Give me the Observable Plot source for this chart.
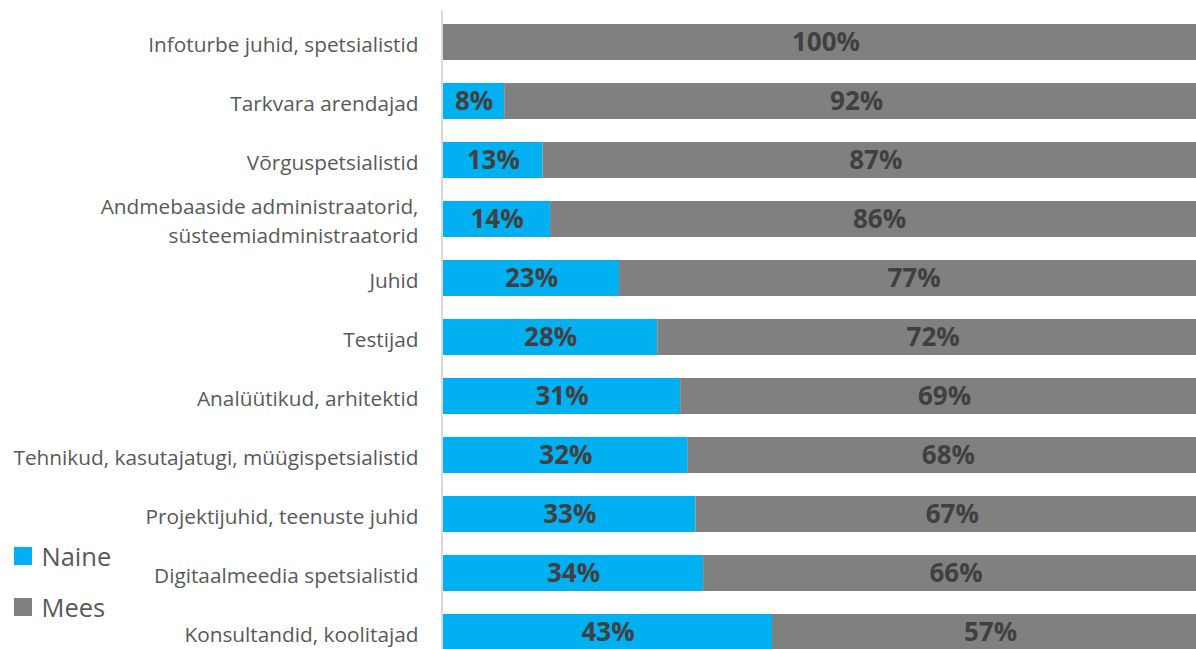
<!DOCTYPE html>
<html>
<head>
<meta charset="utf-8">
<script src="https://cdn.jsdelivr.net/npm/d3@7"></script>
<script src="https://cdn.jsdelivr.net/npm/@observablehq/plot@0.6"></script>
<style>
  html, body { margin: 0; padding: 0; background: #fff; overflow: hidden; }
  #wrap { position: relative; width: 1196px; height: 649px; overflow: hidden; }
  #legend { position: absolute; left: 14px; top: 0; font-family: "Open Sans", sans-serif; color: #595959; font-size: 25.5px; }
  .item { position: absolute; left: 0; height: 36px; display: flex; align-items: center; white-space: nowrap; }
  .sw { width: 17.5px; height: 17.5px; margin-right: 10px; }
</style>
</head>
<body>
<div id="wrap">
  <div id="chart"></div>
  <div id="legend"></div>
</div>
<script>
const categories = [
  "Infoturbe juhid, spetsialistid",
  "Tarkvara arendajad",
  "Võrguspetsialistid",
  "Andmebaaside administraatorid,\nsüsteemiadministraatorid",
  "Juhid",
  "Testijad",
  "Analüütikud, arhitektid",
  "Tehnikud, kasutajatugi, müügispetsialistid",
  "Projektijuhid, teenuste juhid",
  "Digitaalmeedia spetsialistid",
  "Konsultandid, koolitajad"
];
const naine = [0, 8, 13, 14, 23, 28, 31, 32, 33, 34, 43];
const mees = [100, 92, 87, 86, 77, 72, 69, 68, 67, 66, 57];
const seriesNames = ["Naine", "Mees"];
const seriesColors = ["#00B0F0", "#808080"];

const data = [];
categories.forEach((c, i) => {
  data.push({cat: c, sex: "Naine", value: naine[i]});
  data.push({cat: c, sex: "Mees", value: mees[i]});
});

const chart = Plot.plot({
  width: 1196,
  height: 649,
  marginLeft: 443,
  marginRight: -12,
  marginTop: 10.3,
  marginBottom: -14.7,
  style: {fontFamily: "'Open Sans', sans-serif", overflow: "hidden", background: "#fff"},
  x: {domain: [0, 100], axis: null},
  y: {domain: categories, paddingInner: 0.394, paddingOuter: 0.197, label: null},
  color: {domain: seriesNames, range: seriesColors},
  marks: [
    Plot.barX(data, Plot.stackX({x: "value", y: "cat", fill: "sex", order: seriesNames})),
    Plot.ruleX([0], {stroke: "#d9d9d9", strokeWidth: 2, dx: -1.5}),
    Plot.text(data.filter(d => d.value > 0), Plot.stackX({
      x: "value", y: "cat", z: "sex", order: seriesNames,
      text: d => d.value + "%", fill: "#404040", fontWeight: "bold", fontSize: 26
    })),
    Plot.axisY({tickSize: 0, tickPadding: 25, fontSize: 20.8, fill: "#595959", label: null, lineHeight: 1.35})
  ]
});
document.getElementById("chart").appendChild(chart);

const legend = document.getElementById("legend");
const tops = [538, 589];
seriesNames.forEach((n, i) => {
  const it = document.createElement("div");
  it.className = "item";
  it.style.top = tops[i] + "px";
  it.innerHTML = `<span class="sw" style="background:${seriesColors[i]}"></span><span>${n}</span>`;
  legend.appendChild(it);
});
</script>
</body>
</html>
